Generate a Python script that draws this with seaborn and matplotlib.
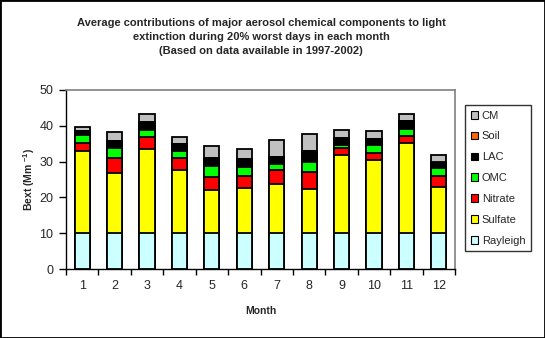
import matplotlib
matplotlib.use("Agg")
import matplotlib.pyplot as plt
import seaborn as sns
import pandas as pd
import numpy as np
from matplotlib.patches import Patch, Rectangle

months = ["1", "2", "3", "4", "5", "6", "7", "8", "9", "10", "11", "12"]
rayleigh = [10, 10, 10, 10, 10, 10, 10, 10, 10, 10, 10, 10]
sulfate = [23.0, 16.8, 23.5, 17.7, 12.2, 12.7, 13.8, 12.4, 21.9, 20.4, 25.3, 12.8]
nitrate = [2.3, 4.2, 3.5, 3.2, 3.5, 3.4, 3.9, 4.7, 1.9, 2.1, 1.9, 3.2]
omc = [2.0, 2.8, 1.9, 2.0, 3.2, 2.5, 1.7, 2.9, 0.9, 2.0, 1.8, 2.1]
lac = [1.2, 1.9, 2.2, 2.0, 2.1, 2.1, 1.9, 3.0, 1.9, 1.8, 2.3, 1.6]
soil = [0.1, 0.1, 0.1, 0.1, 0.1, 0.1, 0.1, 0.1, 0.1, 0.1, 0.1, 0.1]
cm = [1.0, 2.4, 2.0, 1.8, 3.2, 2.6, 4.5, 4.5, 2.0, 2.1, 1.9, 2.0]

names = ["Rayleigh", "Sulfate", "Nitrate", "OMC", "LAC", "Soil", "CM"]
series = [rayleigh, sulfate, nitrate, omc, lac, soil, cm]
colors = ["#CCFFFF", "#FFFF00", "#FF0000", "#00FF00", "#000000", "#FF6600", "#C0C0C0"]

sns.set_style("white")
plt.rcParams["font.family"] = ["Liberation Sans", "DejaVu Sans"]
plt.rcParams["mathtext.fontset"] = "custom"
plt.rcParams["mathtext.bf"] = "Liberation Sans:bold"
plt.rcParams["mathtext.rm"] = "Liberation Sans:bold"

fig = plt.figure(figsize=(5.45, 3.38), dpi=100)
ax = fig.add_axes([66/545, 1-269/338, (455-66)/545, (269-90)/338])

cum = np.cumsum(np.array(series, dtype=float), axis=0)
for i in range(len(names) - 1, -1, -1):
    df = pd.DataFrame({"Month": months, "Bext": cum[i]})
    sns.barplot(data=df, x="Month", y="Bext", color=colors[i], saturation=1,
                edgecolor="black", linewidth=1.3, width=0.47, errorbar=None, ax=ax)

ax.set_xlim(-0.5, 11.5)
ax.set_ylim(0, 50)
ax.set_yticks([0, 10, 20, 30, 40, 50])
ax.set_xticks(range(12))
ax.set_xticklabels(months)
ax.set_xticks(np.arange(-0.5, 12, 1), minor=True)
ax.tick_params(axis="x", which="major", length=0, labelsize=9, pad=8)
ax.tick_params(axis="x", which="minor", length=4, width=1, color="black", direction="out", bottom=True)
ax.tick_params(axis="y", length=5, width=1, color="black", direction="out", left=True, labelsize=9, pad=4)
for s in ["left", "bottom"]:
    ax.spines[s].set_color("black")
    ax.spines[s].set_linewidth(1)
for s in ["top", "right"]:
    ax.spines[s].set_visible(True)
    ax.spines[s].set_color("#808080")
    ax.spines[s].set_linewidth(1.2)

ax.set_xlabel("Month", fontsize=7.5, fontweight="bold", labelpad=10)
ax.set_ylabel(r"Bext (Mm $^{-1}$)", fontsize=7.5, fontweight="bold", labelpad=2)

fig.text(261/545, 1-18/338,
         "Average contributions of major aerosol chemical components to light\n"
         "extinction during 20% worst days in each month\n"
         "(Based on data available in 1997-2002)",
         ha="center", va="top", multialignment="center",
         fontsize=8, fontweight="bold", linespacing=1.5)

handles = [Patch(facecolor=colors[i], edgecolor="black", linewidth=0.8, label=names[i])
           for i in range(len(names) - 1, -1, -1)]
leg = fig.legend(handles=handles, loc="upper left", bbox_to_anchor=(465/545, 1-105/338),
                 frameon=True, fancybox=False, edgecolor="black", fontsize=8,
                 handlelength=0.7, handleheight=0.7, handletextpad=0.3,
                 labelspacing=0.98, borderpad=0.5, borderaxespad=0)
leg.get_frame().set_linewidth(1)

fig.patches.append(Rectangle((0, 0), 1, 1, transform=fig.transFigure, fill=False,
                             edgecolor="black", linewidth=2))

fig.savefig("out.png", dpi=100)
